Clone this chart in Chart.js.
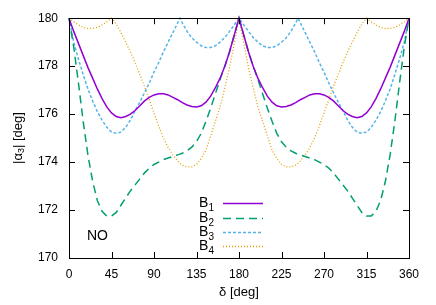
<!DOCTYPE html>
<html lang="en">
<head>
<meta charset="UTF-8" />
<title>alpha3 vs delta</title>
<script src="https://cdn.jsdelivr.net/npm/chart.js"></script>
<style>
  html, body { margin: 0; padding: 0; background: #fff; }
  #wrap { width: 436px; height: 305px; }
</style>
</head>
<body>
<div id="wrap"><canvas id="grafico"></canvas></div>
<script>
// angles delta [deg]
var delta = [0, 5, 10, 15, 20, 25, 30, 35, 40, 45, 50, 55, 60, 65, 70, 75, 80, 85, 90, 95,
    100, 105, 110, 115, 117.5, 120, 125, 130, 135, 140, 145, 150, 155, 160, 165, 170, 175, 180,
    185, 190, 195, 200, 205, 210, 215, 220, 225, 230, 235, 240, 242.5, 245, 250, 255, 260, 265,
    270, 275, 280, 285, 290, 295, 300, 305, 310, 315, 320, 325, 330, 335, 340, 345, 350, 355, 360];

// |alpha3| [deg]
var b1 = [180, 179.45, 178.95, 178.45, 177.95, 177.5, 177.05, 176.65, 176.3, 176.05, 175.9, 175.85,
    175.9, 176.0, 176.15, 176.35, 176.55, 176.7, 176.8, 176.85, 176.85, 176.8, 176.7, 176.6, 176.54,
    176.48, 176.38, 176.32, 176.3, 176.35, 176.5, 176.75, 177.1, 177.5, 178.0, 178.6, 179.3, 180,
    179.3, 178.6, 178.0, 177.5, 177.1, 176.75, 176.5, 176.35, 176.3, 176.32, 176.38, 176.48, 176.54,
    176.6, 176.7, 176.8, 176.85, 176.85, 176.8, 176.7, 176.55, 176.35, 176.15, 176.0, 175.9, 175.85,
    175.9, 176.05, 176.3, 176.65, 177.05, 177.5, 177.95, 178.45, 178.95, 179.45, 180];

var b2 = [180, 178.8, 177.3, 175.7, 174.3, 173.2, 172.4, 171.95, 171.75, 171.75, 171.9, 172.2,
    172.5, 172.8, 173.05, 173.3, 173.55, 173.75, 173.9, 174.0, 174.1, 174.17, 174.23, 174.3, 174.33,
    174.37, 174.47, 174.62, 174.85, 175.2, 175.7, 176.25, 176.85, 177.45, 178.0, 178.6, 179.3, 180,
    179.3, 178.6, 178.0, 177.45, 176.85, 176.25, 175.7, 175.2, 174.85, 174.62, 174.47, 174.37, 174.33,
    174.3, 174.23, 174.17, 174.1, 174.0, 173.9, 173.75, 173.55, 173.3, 173.05, 172.8, 172.5, 172.2,
    171.9, 171.75, 171.75, 171.95, 172.4, 173.2, 174.3, 175.7, 177.3, 178.8, 180];

var b3 = [180, 179.0, 178.3, 177.65, 177.05, 176.55, 176.1, 175.75, 175.45, 175.25, 175.2, 175.25,
    175.45, 175.75, 176.15, 176.5, 176.9, 177.3, 177.75, 178.15, 178.6, 179.0, 179.4, 179.8, 180,
    179.8, 179.45, 179.18, 179.0, 178.85, 178.78, 178.78, 178.85, 179.0, 179.2, 179.45, 179.72, 180,
    179.72, 179.45, 179.2, 179.0, 178.85, 178.78, 178.78, 178.85, 179.0, 179.18, 179.45, 179.8, 180,
    179.8, 179.4, 179.0, 178.6, 178.15, 177.75, 177.3, 176.9, 176.5, 176.15, 175.75, 175.45, 175.25,
    175.2, 175.25, 175.45, 175.75, 176.1, 176.55, 177.05, 177.65, 178.3, 179.0, 180];

var b4 = [180, 179.85, 179.72, 179.62, 179.57, 179.57, 179.62, 179.72, 179.85, 180, 179.75, 179.4,
    179.0, 178.6, 178.15, 177.65, 177.15, 176.6, 176.05, 175.5, 175.0, 174.6, 174.3, 174.05, 173.95,
    173.87, 173.8, 173.8, 173.9, 174.15, 174.5, 175.1, 175.7, 176.3, 177.1, 177.95, 178.95, 180,
    178.95, 177.95, 177.1, 176.3, 175.7, 175.1, 174.5, 174.15, 173.9, 173.8, 173.8, 173.87, 173.95,
    174.05, 174.3, 174.6, 175.0, 175.5, 176.05, 176.6, 177.15, 177.65, 178.15, 178.6, 179.0, 179.4,
    179.75, 180, 179.85, 179.72, 179.62, 179.57, 179.57, 179.62, 179.72, 179.85, 180];

var nomes = ['1', '2', '3', '4'];
var cores = ['#9400d3', '#009e73', '#56b4e9', '#e69f00'];
var tracos = [[], [8, 5], [3, 2], [1, 2]];
var series = [b1, b2, b3, b4];

var fonte = '"Liberation Sans", Arial, sans-serif';

function pontos(v) {
    var out = [];
    for (var i = 0; i < delta.length; i++) out.push({ x: delta[i], y: v[i] });
    return out;
}

var datasets = [];
for (var k = 0; k < series.length; k++) {
    datasets.push({
        label: 'B' + nomes[k],
        data: pontos(series[k]),
        borderColor: cores[k],
        borderWidth: k == 3 ? 1.3 : 1.5,
        borderDash: tracos[k],
        pointRadius: 0,
        tension: 0,
        clip: false
    });
}

// frame, inward ticks, titles, legend
var moldura = {
    id: 'moldura',
    afterDraw: function (chart) {
        var ctx = chart.ctx;
        var a = chart.chartArea;
        var sx = chart.scales.x, sy = chart.scales.y;
        var t = 6;
        ctx.save();
        ctx.strokeStyle = '#000';
        ctx.lineWidth = 1;
        ctx.setLineDash([]);
        ctx.strokeRect(Math.round(a.left) + 0.5, Math.round(a.top) + 0.5,
            Math.round(a.right - a.left), Math.round(a.bottom - a.top));
        ctx.beginPath();
        sx.ticks.forEach(function (tk) {
            var px = Math.round(sx.getPixelForValue(tk.value)) + 0.5;
            ctx.moveTo(px, a.bottom); ctx.lineTo(px, a.bottom - t);
            ctx.moveTo(px, a.top); ctx.lineTo(px, a.top + t);
        });
        sy.ticks.forEach(function (tk) {
            var py = Math.round(sy.getPixelForValue(tk.value)) + 0.5;
            ctx.moveTo(a.left, py); ctx.lineTo(a.left + t, py);
            ctx.moveTo(a.right, py); ctx.lineTo(a.right - t, py);
        });
        ctx.stroke();

        ctx.fillStyle = '#000';
        // x title
        ctx.font = '13px ' + fonte;
        ctx.textAlign = 'center';
        ctx.textBaseline = 'middle';
        ctx.fillText('\u03b4 [deg]', (a.left + a.right) / 2, 292);

        // y title with subscript
        ctx.save();
        ctx.translate(18, (a.top + a.bottom) / 2);
        ctx.rotate(-Math.PI / 2);
        ctx.textAlign = 'left';
        var p1 = '|\u03b1', p3 = '| [deg]';
        ctx.font = '13px ' + fonte;
        var w1 = ctx.measureText(p1).width, w3 = ctx.measureText(p3).width;
        ctx.font = '9px ' + fonte;
        var w2 = ctx.measureText('3').width;
        var x0 = -(w1 + w2 + w3) / 2;
        ctx.font = '13px ' + fonte;
        ctx.fillText(p1, x0, 0);
        ctx.font = '9px ' + fonte;
        ctx.fillText('3', x0 + w1, 4);
        ctx.font = '13px ' + fonte;
        ctx.fillText(p3, x0 + w1 + w2, 0);
        ctx.restore();

        // NO
        ctx.font = '14px ' + fonte;
        ctx.textAlign = 'left';
        ctx.fillText('NO', 87, 236);

        // legend
        var linhas = [203, 218, 232, 246];
        for (var k = 0; k < nomes.length; k++) {
            var y = linhas[k];
            ctx.font = '10px ' + fonte;
            var ws = ctx.measureText(nomes[k]).width;
            ctx.textAlign = 'right';
            ctx.fillText(nomes[k], 214, y + 5);
            ctx.font = '14px ' + fonte;
            ctx.fillText('B', 214 - ws, y);
            ctx.beginPath();
            ctx.strokeStyle = cores[k];
            ctx.lineWidth = k == 3 ? 1.3 : 1.5;
            ctx.setLineDash(tracos[k]);
            ctx.moveTo(223, y + 0.5);
            ctx.lineTo(263, y + 0.5);
            ctx.stroke();
        }
        ctx.restore();
    }
};

new Chart(document.getElementById('grafico'), {
    type: 'line',
    data: { datasets: datasets },
    options: {
        responsive: true,
        maintainAspectRatio: false,
        animation: false,
        layout: { padding: { left: 0, right: 27, top: 17, bottom: 0 } },
        plugins: { legend: { display: false }, tooltip: { enabled: false } },
        scales: {
            x: {
                type: 'linear',
                min: 0, max: 360,
                ticks: { stepSize: 45, color: '#000', padding: 9, maxRotation: 0,
                    font: { family: fonte, size: 12 } },
                grid: { display: false, drawTicks: false },
                border: { display: false },
                afterFit: function (s) { s.height = 47; }
            },
            y: {
                min: 170, max: 180,
                ticks: { stepSize: 2, color: '#000', padding: 11,
                    font: { family: fonte, size: 12 } },
                grid: { display: false, drawTicks: false },
                border: { display: false },
                afterFit: function (s) { s.width = 69; }
            }
        }
    },
    plugins: [moldura]
});
</script>
</body>
</html>
